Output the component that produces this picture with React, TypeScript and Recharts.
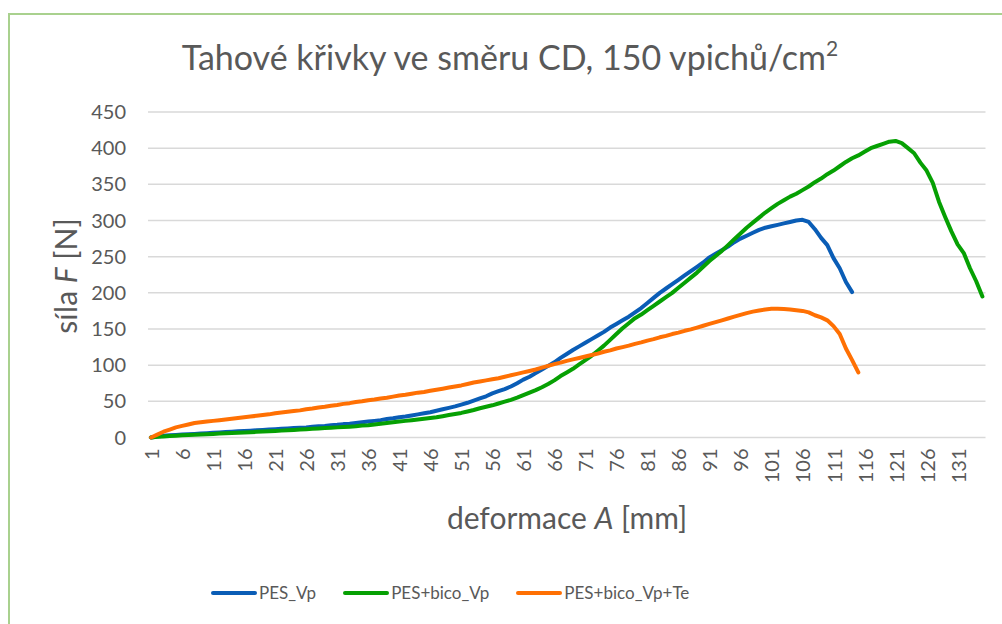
import { LineChart, Line, XAxis, YAxis, CartesianGrid } from 'recharts';

// values, one per category (1, 2, 3 ...)
const pesVp = [
  0, 1.5, 2.5, 3, 3.5, 4, 4.5, 5, 5.5, 6,
  6.5, 7, 7.5, 8, 8.5, 9, 9.5, 10, 10.5, 11,
  11.5, 12, 12.5, 13, 13.5, 14, 15, 15.5, 16, 17,
  17.5, 18.5, 19, 20, 21, 22, 23, 24, 25.5, 26.5,
  28, 29, 30.5, 32, 33.5, 35, 37, 39, 41, 43,
  45.5, 48, 51, 54, 57, 61, 64, 67, 70.5, 75,
  80, 84, 89, 94, 99, 104, 110, 115.5, 121, 126,
  131, 136, 141, 146, 152, 157, 162, 167, 173, 179,
  186, 193, 200, 206, 212, 218, 224, 230, 236, 242,
  249, 254, 259, 264, 270, 275, 279, 283, 287, 290,
  292, 294, 296, 298, 300, 301, 298, 288, 276, 266,
  248, 234, 215, 201,
];

const pesBicoVp = [
  0, 1, 1.5, 2, 2.5, 3, 3.4, 3.8, 4.2, 4.6,
  5, 5.4, 5.8, 6.2, 6.6, 7, 7.4, 7.8, 8.2, 8.6,
  9, 9.5, 10, 10.5, 11, 11.5, 12, 12.5, 13, 13.5,
  14, 14.5, 15, 15.5, 16.5, 17, 18, 19, 20, 21,
  22, 23, 24, 25, 26, 27, 28, 29.5, 31, 32.5,
  34, 36, 38, 40.5, 42.5, 44.5, 47, 49.5, 52, 55,
  58.5, 62, 65.5, 69.5, 74, 79, 85, 90, 95, 101,
  107, 113, 120, 127, 135, 143, 151, 158, 165, 170,
  176, 182, 188, 194, 200, 207, 214, 221, 228, 236,
  244, 251, 258, 266, 274, 282, 290, 297, 304, 311,
  317, 323, 328, 333, 337, 342, 347, 353, 358, 364,
  369, 375, 381, 386, 390, 395, 400, 403, 406, 409,
  410, 407, 400, 393, 380, 369, 352, 326, 305, 285,
  267, 255, 234, 216, 195,
];

const pesBicoVpTe = [
  0, 4, 8, 11, 14, 16, 18, 20, 21, 22,
  23, 24, 25, 26, 27, 28, 29, 30, 31, 32,
  33.5, 34.5, 35.5, 36.5, 37.5, 39, 40, 41.5, 42.5, 44,
  45, 46.5, 47.5, 49, 50, 51.5, 52.5, 54, 55, 56.5,
  58, 59, 60.5, 62, 63, 64.5, 66, 67.5, 69, 70.5,
  72, 74, 76, 77.5, 79, 80.5, 82, 84, 86, 88,
  90, 92, 94, 96.5, 99, 101.5, 103.5, 106, 108, 110,
  112, 114, 116, 118.5, 120.5, 123, 125, 127, 129.5, 131.5,
  134, 136, 138.5, 140.5, 143, 145, 147.5, 149.5, 152, 154.5,
  157, 159.5, 162, 164.5, 167, 169.5, 172, 174, 175.5, 177,
  178, 178, 177.5, 177, 176, 175, 173, 169, 166, 162,
  154, 143, 123, 107, 90,
];

const xTicks = [1, 6, 11, 16, 21, 26, 31, 36, 41, 46, 51, 56, 61, 66, 71, 76, 81, 86, 91, 96, 101, 106, 111, 116, 121, 126, 131];
const yTicks = [0, 50, 100, 150, 200, 250, 300, 350, 400, 450];

const series = [
  { key: 'pesVp', name: 'PES_Vp', color: '#0A5DB6', values: pesVp },
  { key: 'pesBicoVp', name: 'PES+bico_Vp', color: '#06A003', values: pesBicoVp },
  { key: 'pesBicoVpTe', name: 'PES+bico_Vp+Te', color: '#FF7003', values: pesBicoVpTe },
];

const categories = pesBicoVp.map((_, i) => i + 1);

const rows = categories.map((c, i) => {
  const row: Record<string, number | undefined> = { x: c };
  series.forEach((s) => {
    row[s.key] = s.values[i];
  });
  return row;
});

const FONT = 'Lato, "Open Sans", sans-serif';
const GREY = '#595959';

function XTick({ x, y, payload }: any) {
  return (
    <text
      x={x}
      y={y}
      transform={`rotate(-90 ${x} ${y})`}
      textAnchor="end"
      dominantBaseline="central"
      fill={GREY}
      fontSize={20}
      fontFamily={FONT}
    >
      {payload.value}
    </text>
  );
}

export default function App() {
  return (
    <div
      style={{
        position: 'fixed',
        left: 0,
        top: 0,
        width: 1002,
        height: 624,
        overflow: 'hidden',
        background: '#fff',
        fontFamily: FONT,
      }}
    >
      <div
        style={{
          position: 'absolute',
          left: 8,
          top: 13,
          width: 1100,
          height: 700,
          borderLeft: '2px solid #A9D18E',
          borderTop: '2px solid #A9D18E',
        }}
      />
      <div style={{ position: 'absolute', left: 0, top: 0 }}>
        <LineChart width={1002} height={624} data={rows} margin={{ top: 112, right: 16.5, bottom: 126.5, left: 88 }}>
          <CartesianGrid vertical={false} stroke="#D9D9D9" strokeWidth={1.5} />
          <XAxis
            type="number"
            dataKey="x"
            domain={[0.5, 135.5]}
            ticks={xTicks}
            interval={0}
            height={60}
            axisLine={false}
            tickLine={false}
            tickSize={0}
            tickMargin={11}
            tick={<XTick />}
          />
          <YAxis
            domain={[0, 450]}
            ticks={yTicks}
            width={60}
            axisLine={false}
            tickLine={false}
            tickSize={0}
            tickMargin={22}
            tick={{ fill: GREY, fontSize: 20, fontFamily: FONT }}
          />
          {series.map((s) => (
            <Line
              key={s.key}
              type="linear"
              dataKey={s.key}
              name={s.name}
              stroke={s.color}
              strokeWidth={4}
              strokeLinecap="round"
              strokeLinejoin="round"
              dot={false}
              activeDot={false}
              isAnimationActive={false}
            />
          ))}
        </LineChart>
      </div>
      <svg width={1002} height={624} style={{ position: 'absolute', left: 0, top: 0, pointerEvents: 'none' }}>
        <text x={510} y={70} textAnchor="middle" fill={GREY} fontSize={34} fontFamily={FONT}>
          Tahové křivky ve směru CD, 150 vpichů/cm
          <tspan fontSize={21} dy={-14}>2</tspan>
        </text>
        <text x={567} y={529} textAnchor="middle" fill={GREY} fontSize={30} fontFamily={FONT}>
          deformace <tspan fontStyle="italic">A</tspan> [mm]
        </text>
        <text
          x={77}
          y={276}
          transform="rotate(-90 77 276)"
          textAnchor="middle"
          fill={GREY}
          fontSize={30}
          fontFamily={FONT}
        >
          síla <tspan fontStyle="italic">F</tspan> [N]
        </text>
      </svg>
      <div
        style={{
          position: 'absolute',
          left: 211,
          top: 580,
          display: 'flex',
          alignItems: 'center',
          gap: 27,
          height: 26,
        }}
      >
        {series.map((s) => (
          <div key={s.key} style={{ display: 'flex', alignItems: 'center' }}>
            <svg width={46} height={8} style={{ marginRight: 2 }}>
              <line x1={2} y1={4} x2={44} y2={4} stroke={s.color} strokeWidth={4} strokeLinecap="round" />
            </svg>
            <span style={{ color: GREY, fontSize: 17, lineHeight: '26px', whiteSpace: 'nowrap' }}>{s.name}</span>
          </div>
        ))}
      </div>
    </div>
  );
}
